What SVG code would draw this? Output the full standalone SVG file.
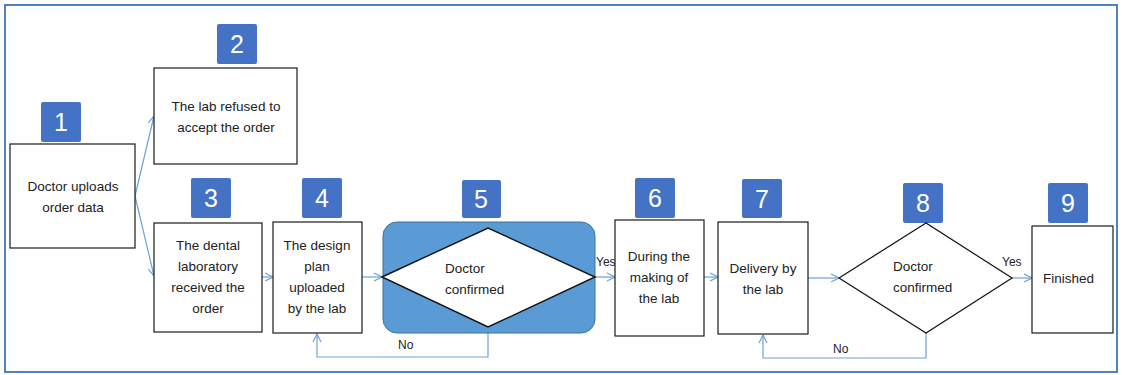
<svg xmlns="http://www.w3.org/2000/svg" width="1122" height="375" viewBox="0 0 1122 375">
<defs>
<style>
.box{fill:#fff;stroke:#1a1a1a;stroke-width:1.2}
.badge{fill:#4472C4}
.num{font-family:"Liberation Sans",Arial,sans-serif;font-size:25px;fill:#fff;text-anchor:middle}
.t{font-family:"Liberation Sans",Arial,sans-serif;font-size:13.5px;fill:#222;text-anchor:middle}
.tl{font-family:"Liberation Sans",Arial,sans-serif;font-size:13.5px;fill:#222}
.s{font-family:"Liberation Sans",Arial,sans-serif;font-size:12px;fill:#222}
.c{fill:none;stroke:#6FA0D8;stroke-width:1.2}
</style>
<marker id="ah" viewBox="0 0 10 10" refX="9" refY="5" markerWidth="10" markerHeight="10" markerUnits="userSpaceOnUse" orient="auto">
<path d="M1,1 L9,5 L1,9" fill="none" stroke="#6FA0D8" stroke-width="1.2"/>
</marker>
</defs>
<rect x="5" y="5" width="1112" height="367" fill="#fff" stroke="#4F81BD" stroke-width="2"/>

<g id="connectors">
<line class="c" x1="135" y1="196" x2="154" y2="116" marker-end="url(#ah)"/>
<line class="c" x1="135" y1="196" x2="154" y2="276" marker-end="url(#ah)"/>
<line class="c" x1="262" y1="277" x2="273" y2="277" marker-end="url(#ah)"/>
<line class="c" x1="362" y1="277" x2="382" y2="277" marker-end="url(#ah)"/>
<polyline class="c" points="488,327 488,357 317,357 317,334" marker-end="url(#ah)"/>
<line class="c" x1="595" y1="277" x2="615" y2="277" marker-end="url(#ah)"/>
<line class="c" x1="704" y1="277" x2="718" y2="277" marker-end="url(#ah)"/>
<line class="c" x1="808" y1="278" x2="839" y2="278" marker-end="url(#ah)"/>
<polyline class="c" points="926,333 926,358 763,358 763,335" marker-end="url(#ah)"/>
<line class="c" x1="1012" y1="278" x2="1032" y2="278" marker-end="url(#ah)"/>
<text class="s" x="596" y="266">Yes</text>
<text class="s" x="398" y="349">No</text>
<text class="s" x="1002" y="266">Yes</text>
<text class="s" x="833" y="353">No</text>
</g>

<g id="n1">
<rect class="badge" x="41" y="102" width="40" height="40" rx="2"/>
<text class="num" x="61" y="131">1</text>
<rect class="box" x="10" y="144" width="125" height="104"/>
<text class="t" x="73" y="191">Doctor uploads</text>
<text class="t" x="73" y="212">order data</text>
</g>

<g id="n2">
<rect class="badge" x="217" y="24" width="40" height="40" rx="2"/>
<text class="num" x="237" y="53">2</text>
<rect class="box" x="154" y="68" width="143" height="96"/>
<text class="t" x="226" y="111">The lab refused to</text>
<text class="t" x="226" y="132">accept the order</text>
</g>

<g id="n3">
<rect class="badge" x="191" y="178" width="40" height="40" rx="2"/>
<text class="num" x="211" y="207">3</text>
<rect class="box" x="154" y="223" width="108" height="109"/>
<text class="t" x="208" y="250">The dental</text>
<text class="t" x="208" y="271">laboratory</text>
<text class="t" x="208" y="292">received the</text>
<text class="t" x="208" y="313">order</text>
</g>

<g id="n4">
<rect class="badge" x="302" y="178" width="40" height="40" rx="2"/>
<text class="num" x="322" y="207">4</text>
<rect class="box" x="273" y="222" width="89" height="111"/>
<text class="t" x="317" y="250">The design</text>
<text class="t" x="317" y="271">plan</text>
<text class="t" x="317" y="292">uploaded</text>
<text class="t" x="317" y="313">by the lab</text>
</g>

<g id="n5">
<rect class="badge" x="462" y="180" width="39" height="38" rx="2"/>
<text class="num" x="481" y="208">5</text>
<rect x="383" y="222" width="212" height="111" rx="14" fill="#5B9BD5" stroke="#41719C" stroke-width="1"/>
<polygon points="382,277 488,228 595,277 488,327" fill="#fff" stroke="#111" stroke-width="1.4"/>
<text class="tl" x="445" y="273">Doctor</text>
<text class="tl" x="445" y="294">confirmed</text>
</g>

<g id="n6">
<rect class="badge" x="635" y="178" width="40" height="40" rx="2"/>
<text class="num" x="655" y="207">6</text>
<rect class="box" x="615" y="220" width="89" height="116"/>
<text class="t" x="659" y="261">During the</text>
<text class="t" x="659" y="282">making of</text>
<text class="t" x="659" y="303">the lab</text>
</g>

<g id="n7">
<rect class="badge" x="742" y="179" width="40" height="39" rx="2"/>
<text class="num" x="762" y="208">7</text>
<rect class="box" x="718" y="222" width="90" height="112"/>
<text class="t" x="763" y="273">Delivery by</text>
<text class="t" x="763" y="294">the lab</text>
</g>

<g id="n8">
<rect class="badge" x="903" y="183" width="40" height="40" rx="2"/>
<text class="num" x="923" y="212">8</text>
<polygon points="839,278 926,223 1012,278 926,333" fill="#fff" stroke="#111" stroke-width="1.2"/>
<text class="tl" x="893" y="271">Doctor</text>
<text class="tl" x="893" y="292">confirmed</text>
</g>

<g id="n9">
<rect class="badge" x="1048" y="183" width="40" height="40" rx="2"/>
<text class="num" x="1068" y="212">9</text>
<rect class="box" x="1032" y="226" width="81" height="107"/>
<text class="tl" x="1043" y="283">Finished</text>
</g>
</svg>
